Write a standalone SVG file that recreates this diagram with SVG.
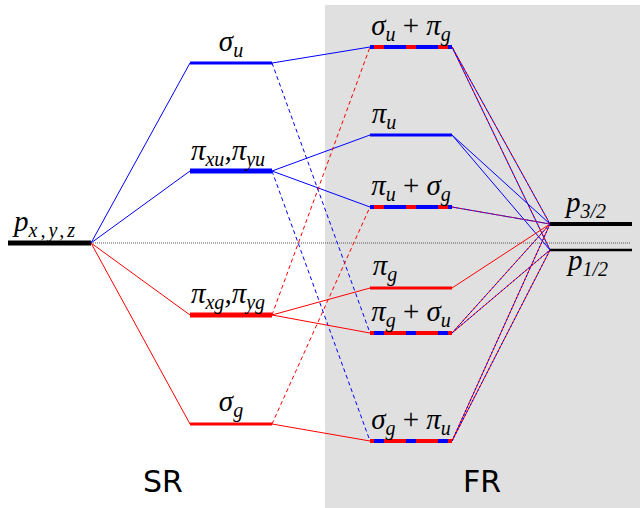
<svg xmlns="http://www.w3.org/2000/svg" width="640" height="508" viewBox="0 0 640 508">
<style>
.b{stroke:#0000ff;stroke-width:1;fill:none}
.r{stroke:#ff0000;stroke-width:1;fill:none}
.bd{stroke:#0000ff;stroke-width:1;fill:none;stroke-dasharray:4 3}
.rd{stroke:#ff0000;stroke-width:1;fill:none;stroke-dasharray:4 3}
.rov{stroke:#ff0000;stroke-width:1;fill:none;stroke-dasharray:2 2}
.bov{stroke:#0000ff;stroke-width:1;fill:none;stroke-dasharray:2 2}
.m{font-family:"Liberation Serif","DejaVu Serif",serif;font-style:italic;font-size:29px;fill:#000}
.s{font-size:20px}
.op{font-style:normal}
.lbl{font-family:"DejaVu Sans","Liberation Sans",sans-serif;font-size:30px;fill:#000}
</style>
<rect x="325" y="5" width="315" height="503" fill="#e0e0e0"/>
<line x1="91" y1="243" x2="630" y2="243" stroke="#555" stroke-width="1" stroke-dasharray="1 1"/>
<g id="connectors">
<line class="b" x1="91" y1="243" x2="190" y2="63"/>
<line class="b" x1="91" y1="243" x2="190" y2="171"/>
<line class="r" x1="91" y1="243" x2="190" y2="315"/>
<line class="r" x1="91" y1="243" x2="190" y2="424"/>
<line class="b" x1="272" y1="63" x2="370" y2="47"/>
<line class="bd" x1="272" y1="63" x2="370" y2="333"/>
<line class="b" x1="272" y1="171" x2="370" y2="135"/>
<line class="b" x1="272" y1="171" x2="370" y2="207"/>
<line class="bd" x1="272" y1="171" x2="370" y2="441"/>
<line class="r" x1="272" y1="315" x2="370" y2="288"/>
<line class="r" x1="272" y1="315" x2="370" y2="333"/>
<line class="rd" x1="272" y1="315" x2="370" y2="47"/>
<line class="r" x1="272" y1="424" x2="370" y2="441"/>
<line class="rd" x1="272" y1="424" x2="370" y2="207"/>
<line class="b" x1="452" y1="47" x2="550" y2="224"/><line class="rov" x1="452" y1="47" x2="550" y2="224"/>
<line class="b" x1="452" y1="47" x2="550" y2="250"/><line class="rov" x1="452" y1="47" x2="550" y2="250"/>
<line class="b" x1="452" y1="135" x2="550" y2="224"/>
<line class="b" x1="452" y1="135" x2="550" y2="250"/>
<line class="b" x1="452" y1="207" x2="550" y2="224"/><line class="rov" x1="452" y1="207" x2="550" y2="224"/>
<line class="r" x1="452" y1="288" x2="550" y2="224"/>
<line class="r" x1="452" y1="333" x2="550" y2="224"/><line class="bov" x1="452" y1="333" x2="550" y2="224"/>
<line class="r" x1="452" y1="333" x2="550" y2="250"/><line class="bov" x1="452" y1="333" x2="550" y2="250"/>
<line class="r" x1="452" y1="441" x2="550" y2="224"/><line class="bov" x1="452" y1="441" x2="550" y2="224"/>
<line class="r" x1="452" y1="441" x2="550" y2="250"/><line class="bov" x1="452" y1="441" x2="550" y2="250"/>
</g>
<g id="pxyz">
<line x1="8" y1="243" x2="91" y2="243" stroke="#000" stroke-width="5"/>
<text class="m" x="14" y="231">p<tspan class="s" dy="6" letter-spacing="3">x,y,z</tspan></text>
</g>
<g id="sigma_u">
<line x1="190" y1="63" x2="272" y2="63" stroke="#0000ff" stroke-width="3"/>
<text class="m" x="231" y="51" text-anchor="middle">σ<tspan class="s" dy="6">u</tspan></text>
</g>
<g id="pi_u_SR">
<line x1="190" y1="171" x2="272" y2="171" stroke="#0000ff" stroke-width="5"/>
<text class="m" x="228" y="160" text-anchor="middle">π<tspan class="s" dy="6">xu</tspan><tspan dy="-6">,π</tspan><tspan class="s" dy="6">yu</tspan></text>
</g>
<g id="pi_g_SR">
<line x1="190" y1="315" x2="272" y2="315" stroke="#ff0000" stroke-width="5"/>
<text class="m" x="228" y="303" text-anchor="middle">π<tspan class="s" dy="6">xg</tspan><tspan dy="-6">,π</tspan><tspan class="s" dy="6">yg</tspan></text>
</g>
<g id="sigma_g">
<line x1="190" y1="424" x2="272" y2="424" stroke="#ff0000" stroke-width="3"/>
<text class="m" x="231" y="411" text-anchor="middle">σ<tspan class="s" dy="6">g</tspan></text>
</g>
<g id="su_pg">
<line x1="370" y1="47" x2="452" y2="47" stroke="#0000ff" stroke-width="4"/>
<line x1="374" y1="47" x2="452" y2="47" stroke="#ff0000" stroke-width="4" stroke-dasharray="10 22"/>
<text class="m" x="411" y="35" text-anchor="middle">σ<tspan class="s" dy="6">u</tspan><tspan class="op" dy="-6"> + </tspan>π<tspan class="s" dy="6">g</tspan></text>
</g>
<g id="pi_u">
<line x1="370" y1="135" x2="452" y2="135" stroke="#0000ff" stroke-width="3"/>
<text class="m" x="384" y="123" text-anchor="middle">π<tspan class="s" dy="6">u</tspan></text>
</g>
<g id="pu_sg">
<line x1="370" y1="207" x2="452" y2="207" stroke="#0000ff" stroke-width="4"/>
<line x1="374" y1="207" x2="452" y2="207" stroke="#ff0000" stroke-width="4" stroke-dasharray="10 22"/>
<text class="m" x="411" y="195" text-anchor="middle">π<tspan class="s" dy="6">u</tspan><tspan class="op" dy="-6"> + </tspan>σ<tspan class="s" dy="6">g</tspan></text>
</g>
<g id="pi_g">
<line x1="370" y1="288" x2="452" y2="288" stroke="#ff0000" stroke-width="3"/>
<text class="m" x="385" y="275" text-anchor="middle">π<tspan class="s" dy="6">g</tspan></text>
</g>
<g id="pg_su">
<line x1="370" y1="333" x2="452" y2="333" stroke="#ff0000" stroke-width="4"/>
<line x1="374" y1="333" x2="452" y2="333" stroke="#0000ff" stroke-width="4" stroke-dasharray="10 22"/>
<text class="m" x="411" y="321" text-anchor="middle">π<tspan class="s" dy="6">g</tspan><tspan class="op" dy="-6"> + </tspan>σ<tspan class="s" dy="6">u</tspan></text>
</g>
<g id="sg_pu">
<line x1="370" y1="441" x2="452" y2="441" stroke="#ff0000" stroke-width="4"/>
<line x1="374" y1="441" x2="452" y2="441" stroke="#0000ff" stroke-width="4" stroke-dasharray="10 22"/>
<text class="m" x="411" y="429" text-anchor="middle">σ<tspan class="s" dy="6">g</tspan><tspan class="op" dy="-6"> + </tspan>π<tspan class="s" dy="6">u</tspan></text>
</g>
<g id="p32">
<line x1="550" y1="224" x2="632" y2="224" stroke="#000" stroke-width="4"/>
<text class="m" x="586" y="212" text-anchor="middle">p<tspan class="s" dy="6">3/2</tspan></text>
</g>
<g id="p12">
<line x1="550" y1="250" x2="632" y2="250" stroke="#000" stroke-width="2.5"/>
<text class="m" x="588" y="270" text-anchor="middle">p<tspan class="s" dy="6">1/2</tspan></text>
</g>
<text class="lbl" x="163" y="492" text-anchor="middle">SR</text>
<text class="lbl" x="482" y="492" text-anchor="middle">FR</text>
</svg>
